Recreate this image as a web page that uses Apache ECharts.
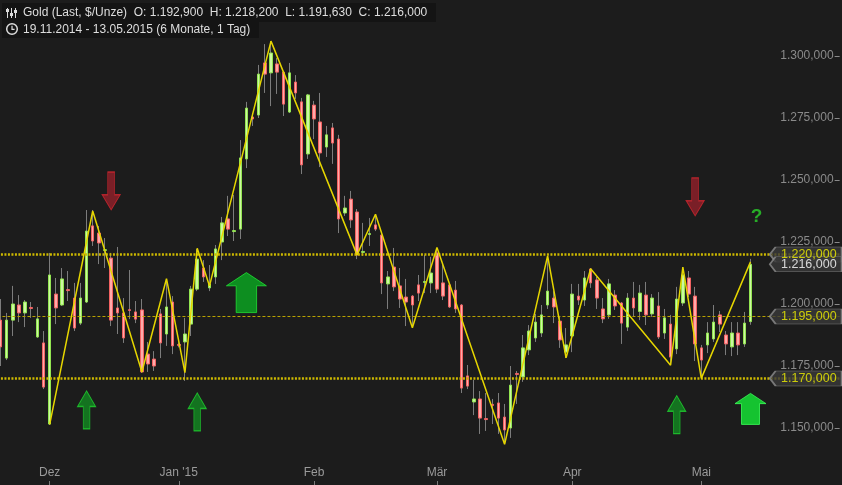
<!DOCTYPE html>
<html><head><meta charset="utf-8">
<script src="https://cdn.jsdelivr.net/npm/echarts@6/dist/echarts.min.js"></script>
<style>html,body{margin:0;padding:0;background:#1c1c1c;}#c{width:842px;height:485px;}</style>
</head><body><div id="c"></div>
<script>
// ---- data ----
const startDate = '2014-11-19', endDate = '2015-05-13';
const holidays = ['2014-12-25', '2014-12-26', '2015-04-03'];
const monthNames = ['Jan', 'Feb', 'Mär', 'Apr', 'Mai', 'Jun', 'Jul', 'Aug', 'Sep', 'Okt', 'Nov', 'Dez'];
const padSlots = 14; // empty slots to the right of the last candle
// [open, close, low, high]
const ohlc = [
[1193.5,1182.7,1175.0,1202.0],[1178.2,1193.5,1177.4,1196.4],[1193.5,1200.0,1187.1,1207.3],[1199.6,1196.4,1192.7,1203.6],
[1196.4,1200.8,1190.7,1201.6],[1198.6,1198.2,1194.4,1200.8],[1186.7,1194.0,1186.3,1198.8],[1184.3,1166.5,1165.7,1189.1],
[1151.6,1211.7,1151.2,1220.6],[1204.0,1198.4,1191.9,1210.5],[1199.6,1210.1,1199.2,1214.5],[1205.8,1205.4,1201.2,1213.3],
[1202.4,1190.3,1189.1,1208.5],[1192.3,1202.4,1191.5,1208.5],[1200.8,1229.4,1200.4,1237.9],[1231.5,1225.4,1223.4,1237.9],
[1228.6,1224.6,1216.1,1231.5],[1221.6,1221.9,1214.5,1226.6],[1218.5,1193.5,1191.1,1220.6],[1198.4,1196.4,1187.9,1223.0],
[1196.4,1186.3,1184.3,1202.4],[1197.7,1197.4,1193.9,1213.7],[1196.8,1193.9,1192.3,1201.2],[1197.6,1172.6,1172.2,1202.0],
[1179.8,1175.8,1172.6,1184.7],[1177.8,1175.0,1173.0,1181.0],[1196.0,1184.3,1178.2,1198.0],[1187.9,1198.8,1183.1,1210.1],
[1200.8,1183.1,1179.8,1203.2],[1183.7,1183.3,1182.5,1184.5],[1184.7,1187.9,1169.0,1194.4],[1191.9,1206.0,1187.1,1207.3],
[1206.0,1218.1,1205.2,1222.2],[1214.5,1210.9,1208.9,1217.7],[1206.5,1208.1,1205.2,1215.7],[1210.9,1222.2,1208.1,1223.8],
[1225.0,1232.7,1217.7,1235.1],[1234.3,1230.2,1227.4,1243.6],[1229.2,1229.6,1225.4,1244.0],[1230.2,1258.9,1226.2,1266.1],
[1258.5,1279.0,1254.8,1281.5],[1275.4,1274.6,1271.8,1277.0],[1276.2,1292.7,1275.0,1296.4],[1297.2,1292.7,1285.1,1304.8],
[1293.2,1301.2,1279.8,1306.0],[1296.8,1293.5,1284.7,1299.2],[1293.5,1280.6,1275.8,1294.0],[1277.4,1293.2,1277.0,1297.2],
[1289.5,1285.1,1282.7,1292.3],[1281.5,1256.1,1252.4,1283.1],[1260.5,1284.3,1258.5,1284.7],[1280.2,1274.6,1266.5,1281.9],
[1273.4,1260.9,1255.2,1285.1],[1263.3,1268.2,1259.3,1271.8],[1271.0,1264.9,1256.5,1273.0],[1266.5,1234.3,1228.6,1268.2],
[1236.7,1238.7,1235.5,1243.6],[1242.3,1233.9,1230.7,1245.6],[1237.1,1219.8,1218.1,1238.3],[1220.8,1221.2,1219.4,1232.7],
[1228.0,1228.4,1223.4,1234.7],[1231.9,1230.2,1229.4,1236.3],[1227.8,1208.5,1204.0,1228.2],[1208.1,1210.9,1198.0,1213.3],
[1214.9,1206.9,1205.2,1222.6],[1207.3,1202.0,1198.4,1214.5],[1202.8,1200.8,1191.1,1210.1],[1203.2,1199.6,1190.3,1203.6],
[1207.7,1204.4,1201.2,1211.7],[1208.7,1209.1,1204.4,1219.8],[1208.5,1212.5,1204.4,1219.0],[1220.6,1206.0,1204.4,1222.6],
[1208.5,1203.2,1201.6,1216.1],[1207.7,1198.8,1198.4,1208.1],[1205.6,1198.0,1196.4,1209.3],[1199.6,1166.1,1164.1,1200.0],
[1171.0,1166.9,1165.7,1175.4],[1160.5,1161.7,1155.2,1169.4],[1161.7,1154.0,1147.6,1164.9],[1153.8,1153.4,1148.8,1164.1],
[1159.5,1159.1,1151.6,1161.7],[1160.1,1154.0,1147.6,1164.1],[1154.4,1149.2,1143.5,1159.7],[1150.0,1167.3,1146.0,1175.0],
[1172.0,1171.6,1159.7,1173.0],[1170.6,1182.3,1168.6,1187.5],[1181.5,1189.1,1179.4,1191.5],[1186.3,1192.7,1184.7,1196.0],
[1188.3,1195.6,1186.7,1199.6],[1199.6,1205.2,1198.0,1219.4],[1202.4,1198.8,1192.3,1205.2],[1193.1,1185.5,1182.3,1195.2],
[1180.6,1183.5,1178.2,1190.3],[1187.1,1204.0,1180.6,1208.1],[1203.2,1201.6,1199.6,1208.1],[1201.6,1210.5,1199.2,1213.3],
[1214.1,1208.5,1206.5,1214.5],[1209.7,1202.4,1198.0,1210.9],[1198.0,1194.0,1192.3,1202.4],[1195.6,1208.1,1194.0,1210.1],
[1203.6,1199.2,1197.6,1205.6],[1200.4,1192.3,1183.9,1200.8],[1190.7,1202.4,1189.1,1204.4],[1202.4,1198.4,1194.8,1208.9],
[1197.0,1204.4,1193.5,1207.7],[1203.6,1195.6,1191.5,1208.9],[1196.0,1202.4,1194.8,1204.0],[1199.2,1186.7,1185.9,1204.8],
[1188.3,1194.4,1185.9,1198.0],[1191.9,1178.6,1175.4,1195.6],[1181.9,1202.0,1179.8,1206.9],[1200.4,1211.7,1199.2,1214.9],
[1210.5,1204.0,1202.8,1213.3],[1203.2,1183.9,1177.0,1206.9],[1182.3,1177.4,1169.8,1183.5],[1183.5,1188.3,1180.2,1192.7],
[1185.9,1192.7,1184.7,1199.6],[1195.6,1191.9,1188.7,1197.2],[1187.5,1183.9,1179.4,1189.1],[1182.7,1188.3,1179.0,1192.7],
[1188.3,1183.5,1179.4,1192.7],[1183.9,1192.3,1182.7,1196.8],[1192.9,1216.0,1191.63,1218.2]
];
// zigzag pivots [candle index, price]
const zigzag = [[8,1151.5],[15,1237.5],[23,1172.6],[27,1210.2],[30,1172.3],[32,1222.5],[34,1207.3],[44,1306.0],
[58,1219.8],[61,1236.2],[67,1190.4],[71,1222.8],[82,1143.4],[89,1219.4],[92,1178.3],[96,1214.2],[109,1175.3],
[111,1214.9],[114,1170.0],[122,1217.0]];
const resistance = 1220, pivotLevel = 1195, support = 1170;
const sellArrows = [[18, 1245.6], [113, 1243.2]];
const buyArrows = [[14, 1157.3], [32, 1156.5], [110, 1155.4]];
const strongBuyArrows = [[40, 1204.6]];
const breakoutArrows = [[122, 1157.7]];
const questionMarks = [[122, 1235.1]];
const yTicks = [1150, 1175, 1200, 1225, 1250, 1275, 1300];

// ---- helpers ----
function fmtDE(v) {
  const s = v.toFixed(3); const p = s.split('.');
  return p[0].replace(/\B(?=(\d{3})+(?!\d))/g, '.') + ',' + p[1];
}
function ymd(d) { return d.toISOString().slice(0, 10); }
const dates = [];
for (let d = new Date(startDate + 'T00:00:00Z'); ymd(d) <= endDate; d.setUTCDate(d.getUTCDate() + 1)) {
  const wd = d.getUTCDay();
  if (wd === 0 || wd === 6) continue;
  if (holidays.indexOf(ymd(d)) >= 0) continue;
  dates.push(ymd(d));
}
const categories = dates.concat(Array.from({length: padSlots}, (_, i) => 'pad' + i));
const monthStart = {};
for (let i = 1; i < dates.length; i++) {
  if (dates[i].slice(5, 7) !== dates[i - 1].slice(5, 7)) {
    const m = +dates[i].slice(5, 7);
    monthStart[i] = m === 1 ? "Jan '" + dates[i].slice(2, 4) : monthNames[m - 1];
  }
}
const isMonthStart = (idx) => monthStart.hasOwnProperty(idx);
const last = ohlc[ohlc.length - 1];
const deDate = s => s.slice(8, 10) + '.' + s.slice(5, 7) + '.' + s.slice(0, 4);

function upArrow(f, s) {
  return `path://M50,0 L100,${f} L${50 + s / 2},${f} L${50 + s / 2},100 L${50 - s / 2},100 L${50 - s / 2},${f} L0,${f} Z`;
}
function downArrow(f, s) {
  return `path://M${50 - s / 2},0 L${50 + s / 2},0 L${50 + s / 2},${100 - f} L100,${100 - f} L50,100 L0,${100 - f} L${50 - s / 2},${100 - f} Z`;
}
const tagPath = 'path://M0,50 L8,0 L100,0 L100,100 L8,100 Z';
const tagIdx = 131;

const signalData = [];
sellArrows.forEach(p => signalData.push({value: p, symbol: downArrow(40, 38), symbolSize: [18, 38],
  itemStyle: {color: '#92202a', borderColor: '#d0262e', borderWidth: 1}}));
buyArrows.forEach(p => signalData.push({value: p, symbol: upArrow(41, 37), symbolSize: [18, 38],
  itemStyle: {color: '#138a22', borderColor: '#1fd530', borderWidth: 1}}));
strongBuyArrows.forEach(p => signalData.push({value: p, symbol: upArrow(33, 51), symbolSize: [40, 40],
  itemStyle: {color: '#0aab22', borderColor: '#22e035', borderWidth: 1}}));
breakoutArrows.forEach(p => signalData.push({value: p, symbol: upArrow(33, 58), symbolSize: [31, 31],
  itemStyle: {color: '#14ee36', borderColor: '#3cff5a', borderWidth: 1}}));
questionMarks.forEach(p => signalData.push({value: p, symbol: 'rect', symbolSize: 1,
  itemStyle: {color: 'rgba(0,0,0,0)'},
  label: {show: true, position: 'inside', offset: [6, 0], formatter: '?', color: '#2ad22a',
    fontSize: 19, fontWeight: 'bold', fontFamily: 'Liberation Sans'}}));

function tag(v, color) {
  return {value: [tagIdx, v], symbol: tagPath, symbolSize: [72, 15],
    itemStyle: {color: '#3a3a3a', borderColor: '#8c8c8c', borderWidth: 1},
    label: {show: true, position: 'inside', offset: [3, 0], formatter: fmtDE(v), color: color,
      fontSize: 12.5, fontFamily: 'Liberation Sans'}};
}
const tagData = [tag(resistance, '#f0f000'), tag(last[1], '#ffffff'), tag(pivotLevel, '#f0f000'), tag(support, '#f0f000')];

const chart = echarts.init(document.getElementById('c'), null, {renderer: 'canvas'});
const txtFont = '12px "Liberation Sans"';
chart.setOption({
  backgroundColor: '#1c1c1c',
  animation: false,
  grid: {left: -2.574, top: -6, width: 842.2, height: 496, containLabel: false, outerBoundsMode: 'none'},
  xAxis: {
    type: 'category', data: categories, boundaryGap: true, offset: -5,
    axisLine: {show: false},
    axisTick: {show: true, inside: true, length: 4, alignWithLabel: true,
      interval: (i) => isMonthStart(i), lineStyle: {color: '#7a7a7a'}},
    axisLabel: {inside: true, margin: 6, interval: (i) => isMonthStart(i),
      formatter: (v, i) => monthStart[i] || '', color: '#9a9a9a', fontSize: 12, fontFamily: 'Liberation Sans'},
    splitLine: {show: false}
  },
  yAxis: {
    type: 'value', position: 'right', min: 1125, max: 1325, interval: 25, scale: true,
    axisLine: {show: false},
    axisTick: {show: true, inside: true, length: 5, lineStyle: {color: '#8a8a8a'}},
    axisLabel: {inside: true, margin: 6, color: '#8a8a8a', fontSize: 12, fontFamily: 'Liberation Sans',
      formatter: v => yTicks.indexOf(v) >= 0 ? fmtDE(v) : ''},
    splitLine: {show: false}
  },
  series: [
    {type: 'candlestick', name: 'wicks', data: ohlc, barWidth: 1, silent: true, z: 2,
      itemStyle: {color: '#7c7c7c', color0: '#7c7c7c', borderColor: '#7c7c7c', borderColor0: '#7c7c7c',
        borderColorDoji: '#7c7c7c', borderWidth: 1}},
    {type: 'candlestick', name: 'bodies', silent: true, z: 3, barWidth: 3,
      data: ohlc.map(d => [d[0], d[1], Math.min(d[0], d[1]), Math.max(d[0], d[1])]),
      itemStyle: {color: '#cdf7a2', color0: '#ffaaaa', borderColor: '#93e551', borderColor0: '#f26262',
        borderColorDoji: '#f26262', borderWidth: 1}},
    {type: 'line', name: 'zigzag', data: zigzag, symbol: 'none', z: 5, silent: true,
      lineStyle: {color: '#e6d600', width: 1.5},
      markLine: {silent: true, symbol: ['none', 'none'], label: {show: false}, animation: false,
        data: [
          {yAxis: resistance, lineStyle: {type: [2, 1.5], width: 2.5, color: '#cdb900'}},
          {yAxis: pivotLevel, lineStyle: {type: [3, 2], width: 1, color: '#b9a300'}},
          {yAxis: support, lineStyle: {type: [2, 1.5], width: 2.5, color: '#cdb900'}}
        ]}},
    {type: 'scatter', name: 'signals', data: signalData, z: 6, silent: true},
    {type: 'scatter', name: 'tags', data: tagData, z: 7, silent: true}
  ],
  graphic: [
    {type: 'rect', shape: {x: 2, y: 3, width: 434, height: 19}, style: {fill: '#141414'}, z: 10},
    {type: 'rect', shape: {x: 2, y: 21, width: 257, height: 17}, style: {fill: '#141414'}, z: 10},
    // settings icon
    {type: 'line', shape: {x1: 7.5, y1: 8, x2: 7.5, y2: 18}, style: {stroke: '#dddddd', lineWidth: 1}, z: 11},
    {type: 'line', shape: {x1: 11.5, y1: 8, x2: 11.5, y2: 18}, style: {stroke: '#dddddd', lineWidth: 1}, z: 11},
    {type: 'line', shape: {x1: 15.5, y1: 8, x2: 15.5, y2: 18}, style: {stroke: '#dddddd', lineWidth: 1}, z: 11},
    {type: 'rect', shape: {x: 6, y: 9, width: 3, height: 3}, style: {fill: '#dddddd'}, z: 11},
    {type: 'rect', shape: {x: 10, y: 13, width: 3, height: 3}, style: {fill: '#dddddd'}, z: 11},
    {type: 'rect', shape: {x: 14, y: 10, width: 3, height: 3}, style: {fill: '#dddddd'}, z: 11},
    // clock icon
    {type: 'circle', shape: {cx: 12, cy: 29, r: 5.3}, style: {fill: 'none', stroke: '#dddddd', lineWidth: 1.5}, z: 11},
    {type: 'polyline', shape: {points: [[12, 25.8], [12, 29.3], [14.6, 29.3]]}, style: {fill: 'none', stroke: '#dddddd', lineWidth: 1.2}, z: 11},
    {type: 'text', x: 23, y: 13, z: 11, style: {
      text: `Gold (Last, $/Unze)  O: ${fmtDE(last[0])}  H: ${fmtDE(last[3])}  L: ${fmtDE(last[2])}  C: ${fmtDE(last[1])}`,
      fill: '#dedede', font: txtFont, verticalAlign: 'middle'}},
    {type: 'text', x: 23, y: 29.5, z: 11, style: {
      text: `${deDate(dates[0])} - ${deDate(dates[dates.length - 1])} (6 Monate, 1 Tag)`,
      fill: '#dedede', font: txtFont, verticalAlign: 'middle'}}
  ]
});
</script></body></html>
